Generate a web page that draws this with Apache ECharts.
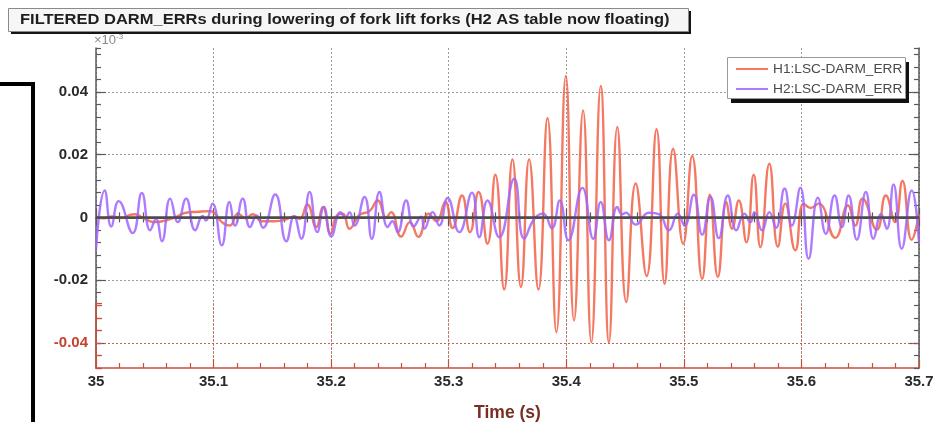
<!DOCTYPE html>
<html>
<head>
<meta charset="utf-8">
<script src="https://cdn.jsdelivr.net/npm/echarts@6/dist/echarts.min.js"></script>
<style>
  html, body { margin: 0; padding: 0; background: #ffffff; }
  #chart { width: 939px; height: 422px; }
</style>
</head>
<body>
<div id="chart"></div>
<script>
// Plot text
const titleText = 'FILTERED DARM_ERRs during lowering of fork lift forks (H2 AS table now floating)';
const xAxisTitle = 'Time (s)';
const yScaleNote = '\u00d710';
const seriesNames = ['H1:LSC-DARM_ERR', 'H2:LSC-DARM_ERR'];

// Axis ticks (seconds / strain counts x 1e-3)
const xMajorTicks = [35, 35.1, 35.2, 35.3, 35.4, 35.5, 35.6, 35.7];
const yMajorTicks = [-0.04, -0.02, 0, 0.02, 0.04];

// H1 filtered DARM_ERR: sample times (s) and values (x1e-3)
const h1Time = [
  35.0000, 35.0068, 35.0136, 35.0221, 35.0289, 35.0331, 35.0416, 35.0501, 35.0586, 35.0671,
  35.0756, 35.0866, 35.0968, 35.1019, 35.1070, 35.1138, 35.1208, 35.1273, 35.1333, 35.1409,
  35.1520, 35.1604, 35.1689, 35.1732, 35.1797, 35.1873, 35.1930, 35.1995, 35.2046, 35.2099,
  35.2156, 35.2241, 35.2326, 35.2396, 35.2468, 35.2510, 35.2595, 35.2670, 35.2742, 35.2829,
  35.2895, 35.2971, 35.3033, 35.3113, 35.3181, 35.3254, 35.3330, 35.3396, 35.3472, 35.3542,
  35.3614, 35.3684, 35.3763, 35.3840, 35.3916, 35.3996, 35.4066, 35.4143, 35.4213, 35.4293,
  35.4363, 35.4434, 35.4510, 35.4590, 35.4683, 35.4768, 35.4836, 35.4909, 35.4994, 35.5071,
  35.5156, 35.5221, 35.5289, 35.5362, 35.5410, 35.5467, 35.5532, 35.5594, 35.5651, 35.5727,
  35.5800, 35.5863, 35.5948, 35.6019, 35.6078, 35.6146, 35.6288, 35.6395, 35.6458, 35.6520,
  35.6641, 35.6718, 35.6797, 35.6859, 35.6938, 35.7000
];
const h1Value = [
  0.0000, -0.0003, 0.0003, -0.0002, 0.0008, 0.0010, -0.0005, -0.0015, -0.0010, 0.0000,
  0.0014, 0.0018, 0.0020, 0.0010, -0.0015, -0.0026, 0.0012, -0.0003, 0.0010, -0.0012,
  -0.0012, -0.0008, 0.0003, -0.0005, 0.0041, -0.0031, 0.0033, -0.0052, 0.0005, 0.0012,
  -0.0036, 0.0008, 0.0020, 0.0054, 0.0000, 0.0017, -0.0061, -0.0015, -0.0062, 0.0012,
  -0.0012, 0.0049, -0.0034, 0.0070, -0.0047, 0.0081, -0.0084, 0.0136, -0.0230, 0.0185,
  -0.0222, 0.0185, -0.0230, 0.0317, -0.0366, 0.0451, -0.0329, 0.0341, -0.0398, 0.0419,
  -0.0398, 0.0288, -0.0270, 0.0108, -0.0187, 0.0281, -0.0212, 0.0219, -0.0084, 0.0196,
  -0.0196, 0.0072, -0.0190, 0.0049, -0.0036, 0.0054, -0.0079, 0.0136, -0.0095, 0.0171,
  -0.0093, 0.0044, -0.0105, 0.0044, 0.0030, 0.0044, -0.0065, 0.0038, -0.0026, 0.0060,
  -0.0039, 0.0070, -0.0015, 0.0116, -0.0071, 0.0010
];

// H2 filtered DARM_ERR: sample times (s) and values (x1e-3)
const h2Time = [
  35.0000, 35.0074, 35.0130, 35.0193, 35.0312, 35.0390, 35.0461, 35.0510, 35.0560, 35.0631,
  35.0696, 35.0767, 35.0843, 35.0908, 35.0934, 35.0991, 35.1070, 35.1135, 35.1183, 35.1248,
  35.1310, 35.1367, 35.1420, 35.1525, 35.1619, 35.1684, 35.1746, 35.1817, 35.1882, 35.1938,
  35.2001, 35.2080, 35.2120, 35.2156, 35.2199, 35.2284, 35.2346, 35.2411, 35.2481, 35.2521,
  35.2566, 35.2638, 35.2702, 35.2765, 35.2793, 35.2863, 35.2920, 35.2991, 35.3090, 35.3198,
  35.3260, 35.3330, 35.3430, 35.3557, 35.3642, 35.3727, 35.3803, 35.3877, 35.3945, 35.4018,
  35.4137, 35.4230, 35.4293, 35.4363, 35.4434, 35.4474, 35.4508, 35.4590, 35.4703, 35.4788,
  35.4873, 35.4949, 35.5006, 35.5085, 35.5156, 35.5227, 35.5297, 35.5374, 35.5447, 35.5515,
  35.5566, 35.5600, 35.5665, 35.5727, 35.5784, 35.5857, 35.5919, 35.5991, 35.6061, 35.6140,
  35.6208, 35.6282, 35.6344, 35.6401, 35.6471, 35.6548, 35.6613, 35.6678, 35.6726, 35.6783,
  35.6853, 35.6938, 35.7000
];
const h2Value = [
  -0.0100, 0.0086, -0.0029, 0.0052, -0.0050, 0.0078, -0.0041, -0.0005, -0.0076, 0.0060,
  -0.0015, 0.0060, -0.0041, 0.0005, -0.0010, 0.0044, -0.0089, 0.0049, -0.0026, 0.0060,
  -0.0031, 0.0006, -0.0033, 0.0073, -0.0076, 0.0004, -0.0068, 0.0081, -0.0047, 0.0033,
  -0.0061, 0.0017, -0.0003, 0.0017, -0.0026, 0.0065, -0.0068, 0.0081, -0.0031, -0.0012,
  -0.0047, 0.0054, -0.0029, 0.0002, -0.0036, 0.0017, -0.0026, 0.0062, -0.0047, 0.0079,
  -0.0063, 0.0054, -0.0063, 0.0123, -0.0068, -0.0005, 0.0012, -0.0034, 0.0054, -0.0073,
  0.0094, -0.0068, 0.0049, -0.0073, 0.0033, 0.0010, 0.0015, -0.0023, 0.0015, 0.0010,
  -0.0041, 0.0012, -0.0026, 0.0072, -0.0055, 0.0065, -0.0066, 0.0070, -0.0041, 0.0012,
  -0.0015, 0.0017, -0.0041, 0.0017, -0.0033, 0.0092, -0.0026, 0.0095, -0.0132, 0.0063,
  -0.0052, 0.0070, -0.0031, 0.0070, -0.0071, 0.0081, -0.0068, 0.0010, -0.0036, 0.0105,
  -0.0100, 0.0086, -0.0080
];

const pairs = (ts, vs) => ts.map((t, i) => [t, vs[i]]);

const FONT = '"Liberation Sans", Arial, Helvetica, sans-serif';
const FRAME = '#5a5a5a';
const GRIDC = '#9a9a9a';
const REDAXIS = '#c8503c';
const H1C = 'rgba(242, 98, 70, 0.85)';
const H2C = 'rgba(160, 100, 255, 0.85)';

const Y_MIN = -0.048, Y_MAX = 0.054;
const X_MIN = 35, X_MAX = 35.7;

const chart = echarts.init(document.getElementById('chart'), null, { renderer: 'canvas' });

const fmtX = v => String(Math.round(v * 10) / 10);

const option = {
  backgroundColor: '#ffffff',
  animation: false,
  textStyle: { fontFamily: FONT },
  grid: [
    { left: 96, right: 20, top: 48, bottom: 54, containLabel: false, outerBoundsMode: 'none' },
    { left: 96, right: 20, top: 303, bottom: 54, containLabel: false, outerBoundsMode: 'none' }
  ],
  xAxis: [
    { // bottom axis with labels
      type: 'value', gridIndex: 0, position: 'bottom', min: X_MIN, max: X_MAX, interval: 0.1,
      axisLine: { show: true, lineStyle: { color: FRAME, width: 1.5 } },
      axisTick: { show: true, inside: true, length: 9, lineStyle: { color: FRAME, width: 1.2 } },
      minorTick: { show: true, splitNumber: 5, length: 5, lineStyle: { color: FRAME, width: 1.2 } },
      splitLine: { show: true, lineStyle: { color: GRIDC, type: [2, 2], width: 1 } },
      axisLabel: {
        show: true, margin: 6, color: '#2a2a2a', fontSize: 15, fontWeight: 'bold',
        fontFamily: FONT, formatter: fmtX, customValues: xMajorTicks
      },
      name: xAxisTitle, nameLocation: 'middle', nameGap: 36,
      nameTextStyle: { color: '#7a2e22', fontSize: 17.5, fontWeight: 'bold', fontFamily: FONT }
    },
    { // top frame ticks
      type: 'value', gridIndex: 0, position: 'top', min: X_MIN, max: X_MAX, interval: 0.1,
      axisLine: { show: true, lineStyle: { color: FRAME, width: 1.5 } },
      axisTick: { show: true, inside: true, length: 9, lineStyle: { color: FRAME, width: 1.2 } },
      minorTick: { show: true, splitNumber: 5, length: 5, lineStyle: { color: FRAME, width: 1.2 } },
      splitLine: { show: false }, axisLabel: { show: false }
    },
    { // lower band frame, drawn in red
      type: 'value', gridIndex: 1, position: 'bottom', min: X_MIN, max: X_MAX, interval: 0.1,
      axisLine: { show: true, lineStyle: { color: REDAXIS, width: 1.5 } },
      axisTick: { show: true, inside: true, length: 9, lineStyle: { color: REDAXIS, width: 1.2 } },
      minorTick: { show: true, splitNumber: 5, length: 5, lineStyle: { color: REDAXIS, width: 1.2 } },
      splitLine: { show: true, lineStyle: { color: 'rgba(205,90,70,0.8)', type: [2, 2], width: 1 } },
      axisLabel: { show: false }
    }
  ],
  yAxis: [
    { // left axis with major ticks and labels
      type: 'value', gridIndex: 0, position: 'left', min: Y_MIN, max: Y_MAX,
      axisLine: { show: true, lineStyle: { color: FRAME, width: 1.5 } },
      axisTick: { show: true, inside: true, length: 10, customValues: yMajorTicks,
                  lineStyle: { color: FRAME, width: 1.2 } },
      splitLine: { show: true, lineStyle: { color: GRIDC, type: [2, 2], width: 1 } },
      axisLabel: {
        show: true, margin: 8, color: '#2a2a2a', fontSize: 15, fontWeight: 'bold', fontFamily: FONT,
        customValues: yMajorTicks,
        formatter: v => {
          const s = String(Math.round(v * 100) / 100);
          return v < -0.03 ? '{r|' + s + '}' : s;
        },
        rich: { r: { color: '#c8412e', fontSize: 15, fontWeight: 'bold', fontFamily: FONT } }
      }
    },
    { // left minor ticks
      type: 'value', gridIndex: 0, position: 'left', min: Y_MIN, max: Y_MAX, interval: 0.004,
      axisLine: { show: false },
      axisTick: { show: true, inside: true, length: 5, lineStyle: { color: FRAME, width: 1.2 } },
      splitLine: { show: false }, axisLabel: { show: false }
    },
    { // right frame, major ticks
      type: 'value', gridIndex: 0, position: 'right', min: Y_MIN, max: Y_MAX,
      axisLine: { show: true, lineStyle: { color: FRAME, width: 1.5 } },
      axisTick: { show: true, inside: true, length: 10, customValues: yMajorTicks,
                  lineStyle: { color: FRAME, width: 1.2 } },
      splitLine: { show: false }, axisLabel: { show: false }
    },
    { // right frame, minor ticks
      type: 'value', gridIndex: 0, position: 'right', min: Y_MIN, max: Y_MAX, interval: 0.004,
      axisLine: { show: false },
      axisTick: { show: true, inside: true, length: 5, lineStyle: { color: FRAME, width: 1.2 } },
      splitLine: { show: false }, axisLabel: { show: false }
    },
    { // lower band left axis in red
      type: 'value', gridIndex: 1, position: 'left', min: Y_MIN, max: -0.02728, interval: 0.004,
      axisLine: { show: true, lineStyle: { color: REDAXIS, width: 1.5 } },
      axisTick: { show: true, inside: true, length: 6, lineStyle: { color: REDAXIS, width: 1.2 } },
      splitLine: { show: false }, axisLabel: { show: false }
    }
  ],
  legend: {
    show: true, orient: 'vertical', left: 731, top: 57,
    itemWidth: 32, itemHeight: 2, itemGap: 6, icon: 'rect',
    data: seriesNames,
    textStyle: { color: '#4a4a4a', fontSize: 13.7, fontFamily: FONT, lineHeight: 14 },
    z: 10
  },
  graphic: [
    // title box with drop shadow
    { type: 'rect', left: 11, top: 11, z: 20, shape: { width: 680, height: 23 }, style: { fill: '#151515' } },
    { type: 'rect', left: 8, top: 8, z: 21, shape: { width: 680, height: 23 },
      style: { fill: '#f6f6f6', stroke: '#8a8a8a', lineWidth: 1 } },
    { type: 'text', x: 20, y: 12, scaleX: 1.1, z: 22,
      style: { text: titleText, fill: '#1e1e1e', font: 'bold 15px ' + FONT } },
    // exponent note above the y axis
    { type: 'text', left: 94, top: 34, z: 5,
      style: { text: yScaleNote, fill: '#8a8a8a', font: '13px ' + FONT } },
    { type: 'text', left: 116, top: 33, z: 5,
      style: { text: '-3', fill: '#8a8a8a', font: '8px ' + FONT } },
    // legend frame with drop shadow
    { type: 'rect', left: 731, top: 62, z: 8, shape: { width: 178, height: 41 }, style: { fill: '#111' } },
    { type: 'rect', left: 727, top: 57, z: 9, shape: { width: 178, height: 41 },
      style: { fill: '#ffffff', stroke: '#9a9a9a', lineWidth: 1 } },
    // window edge at the left
    { type: 'rect', left: 31, top: 82, z: 5, shape: { width: 4, height: 340 }, style: { fill: '#000' } },
    { type: 'rect', left: 0, top: 82, z: 5, shape: { width: 35, height: 4 }, style: { fill: '#000' } }
  ],
  series: [
    { // zero reference line
      name: 'zero', type: 'line', xAxisIndex: 0, yAxisIndex: 0, data: [], z: 1, silent: true,
      markLine: {
        silent: true, symbol: 'none', label: { show: false },
        lineStyle: { color: '#4a4a4a', width: 2.5, type: 'solid' },
        data: [{ yAxis: 0 }]
      }
    },
    { // red grid line in the lower band
      name: 'band', type: 'line', xAxisIndex: 2, yAxisIndex: 4, data: [], z: 1, silent: true,
      markLine: {
        silent: true, symbol: 'none', label: { show: false },
        lineStyle: { color: 'rgba(205,90,70,0.85)', width: 1, type: [2, 2] },
        data: [{ yAxis: -0.04 }]
      }
    },
    {
      name: seriesNames[0], type: 'line', xAxisIndex: 0, yAxisIndex: 0,
      data: pairs(h1Time, h1Value), showSymbol: false, smooth: 0.5, z: 3,
      color: H1C, lineStyle: { color: H1C, width: 2.4 }
    },
    {
      name: seriesNames[1], type: 'line', xAxisIndex: 0, yAxisIndex: 0,
      data: pairs(h2Time, h2Value), showSymbol: false, smooth: 0.5, z: 4,
      color: H2C, lineStyle: { color: H2C, width: 2.4 }
    }
  ]
};

chart.setOption(option);
</script>
</body>
</html>
